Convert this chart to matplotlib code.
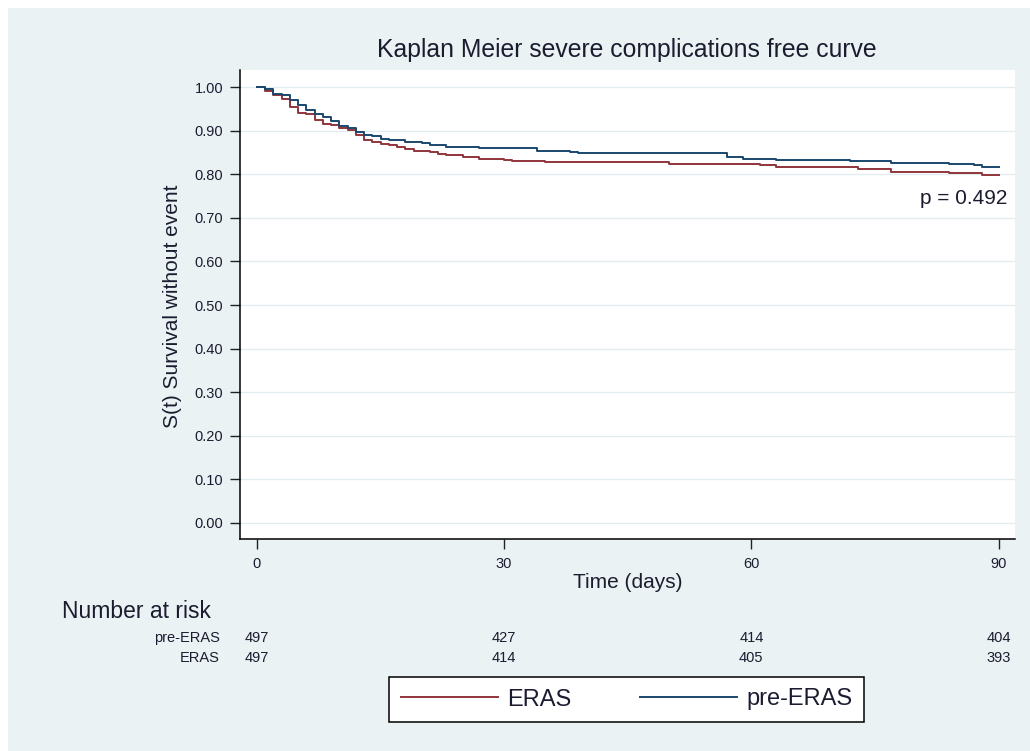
import numpy as np
import matplotlib
matplotlib.use("Agg")
from matplotlib import pyplot as plt
from matplotlib import transforms
from matplotlib.patches import Rectangle

plt.rcParams['font.family'] = ['Liberation Sans', 'DejaVu Sans']

############################################
############# curve data ###################
############################################
# ERAS group: step times (days) and survival estimates
eras_days = [0, 1, 2, 3, 4, 5, 6, 7, 8, 9, 10, 11, 12, 13, 14, 15, 16, 17, 18, 19,
             21, 22, 23, 25, 27, 30, 31, 35, 50, 61, 63, 73, 77, 84, 88, 90]
eras_surv = [1.000, 0.991, 0.981, 0.972, 0.954, 0.940, 0.937, 0.924, 0.914, 0.912,
             0.907, 0.901, 0.889, 0.878, 0.874, 0.870, 0.866, 0.862, 0.858, 0.854,
             0.850, 0.846, 0.843, 0.840, 0.836, 0.833, 0.830, 0.827, 0.823, 0.820,
             0.816, 0.812, 0.806, 0.802, 0.798, 0.798]

# pre-ERAS group
pre_days = [0, 1, 2, 3, 4, 5, 6, 7, 8, 9, 10, 11, 12, 13, 14, 15, 16, 18, 20, 21,
            23, 27, 34, 38, 39, 57, 59, 63, 72, 77, 84, 87, 88, 90]
pre_surv = [1.000, 0.996, 0.985, 0.981, 0.970, 0.958, 0.948, 0.937, 0.931, 0.921,
            0.911, 0.907, 0.897, 0.890, 0.887, 0.881, 0.878, 0.875, 0.871, 0.867,
            0.863, 0.861, 0.854, 0.850, 0.848, 0.840, 0.836, 0.833, 0.830, 0.826,
            0.823, 0.820, 0.816, 0.816]

# number at risk table
risk_times = [0, 30, 60, 90]
risk_pre = [497, 427, 414, 404]
risk_eras = [497, 414, 405, 393]

p_label = "p = 0.492"
x_ticks = [0, 30, 60, 90]
y_ticks = np.round(np.arange(0, 1.01, 0.1), 2)

############################################
############### plotting ###################
############################################
navy = '#1a476f'
maroon = '#90353b'
bg = '#eaf2f3'
txt = '#1c1c30'

fig = plt.figure(figsize=(10.3, 7.51), dpi=100, facecolor='white')
fig.patches.append(Rectangle((8 / 1030, 0), 1, 1 - 8 / 751, transform=fig.transFigure,
                             facecolor=bg, edgecolor='none', zorder=-10))

ax = fig.add_axes([240 / 1030, 1 - 539 / 751, 775 / 1030, 469 / 751])
ax.set_facecolor('white')

ax.step(eras_days, eras_surv, where='post', color=maroon, lw=1.4, label='ERAS')
ax.step(pre_days, pre_surv, where='post', color=navy, lw=1.4, label='pre-ERAS')

ax.set_xlim(-2.06, 92.0)
ax.set_ylim(-0.0367, 1.039)
ax.set_xticks(x_ticks)
ax.set_yticks(y_ticks)
ax.set_yticklabels(['%.2f' % v for v in y_ticks])
ax.grid(axis='y', color='#e3edf0', lw=1.0)
ax.set_axisbelow(True)

for s in ['top', 'right']:
    ax.spines[s].set_visible(False)
for s in ['left', 'bottom']:
    ax.spines[s].set_color('black')
    ax.spines[s].set_linewidth(1.1)

ax.tick_params(axis='both', length=7.2, width=1.0, color='#222222', labelcolor=txt,
               labelsize=10.5)
ax.tick_params(axis='y', pad=5)
ax.tick_params(axis='x', pad=6)

ax.set_ylabel('S(t) Survival without event', fontsize=15, color=txt, va='center')
ax.yaxis.set_label_coords(-0.0865, 0.497)
ax.set_xlabel('Time (days)', fontsize=15, color=txt, va='center')
ax.xaxis.set_label_coords(0.5, -0.0917)

fig.text(627 / 1030, 1 - 50 / 751, 'Kaplan Meier severe complications free curve',
         fontsize=17.8, color=txt, ha='center', va='center')

fig.text(1007 / 1030, 1 - 198 / 751, p_label, fontsize=15, color=txt,
         ha='right', va='center')

# number at risk under the axis
tr = transforms.blended_transform_factory(ax.transData, fig.transFigure)
fig.text(62 / 1030, 1 - 612 / 751, 'Number at risk', fontsize=16.5, color=txt,
         ha='left', va='center')
fig.text(220 / 1030, 1 - 638 / 751, 'pre-ERAS', fontsize=10.5, color=txt, ha='right', va='center')
fig.text(220 / 1030, 1 - 658 / 751, 'ERAS', fontsize=10.5, color=txt, ha='right', va='center')
for t, a, b in zip(risk_times, risk_pre, risk_eras):
    ax.text(t, 1 - 638 / 751, str(a), transform=tr, fontsize=10.5, color=txt,
            ha='center', va='center')
    ax.text(t, 1 - 658 / 751, str(b), transform=tr, fontsize=10.5, color=txt,
            ha='center', va='center')

leg = fig.legend(loc='center', bbox_to_anchor=(626.5 / 1030, 1 - 699.5 / 751), ncol=2,
                 fontsize=17, frameon=True, fancybox=False, edgecolor='black',
                 handlelength=4.1, handletextpad=0.4, columnspacing=2.9,
                 borderpad=0.5, borderaxespad=0)
leg.get_frame().set_linewidth(1.1)
leg.get_frame().set_facecolor('white')
leg.get_frame().set_alpha(1)
for t in leg.get_texts():
    t.set_color(txt)

fig.savefig('out.png', dpi=100, facecolor='white')
